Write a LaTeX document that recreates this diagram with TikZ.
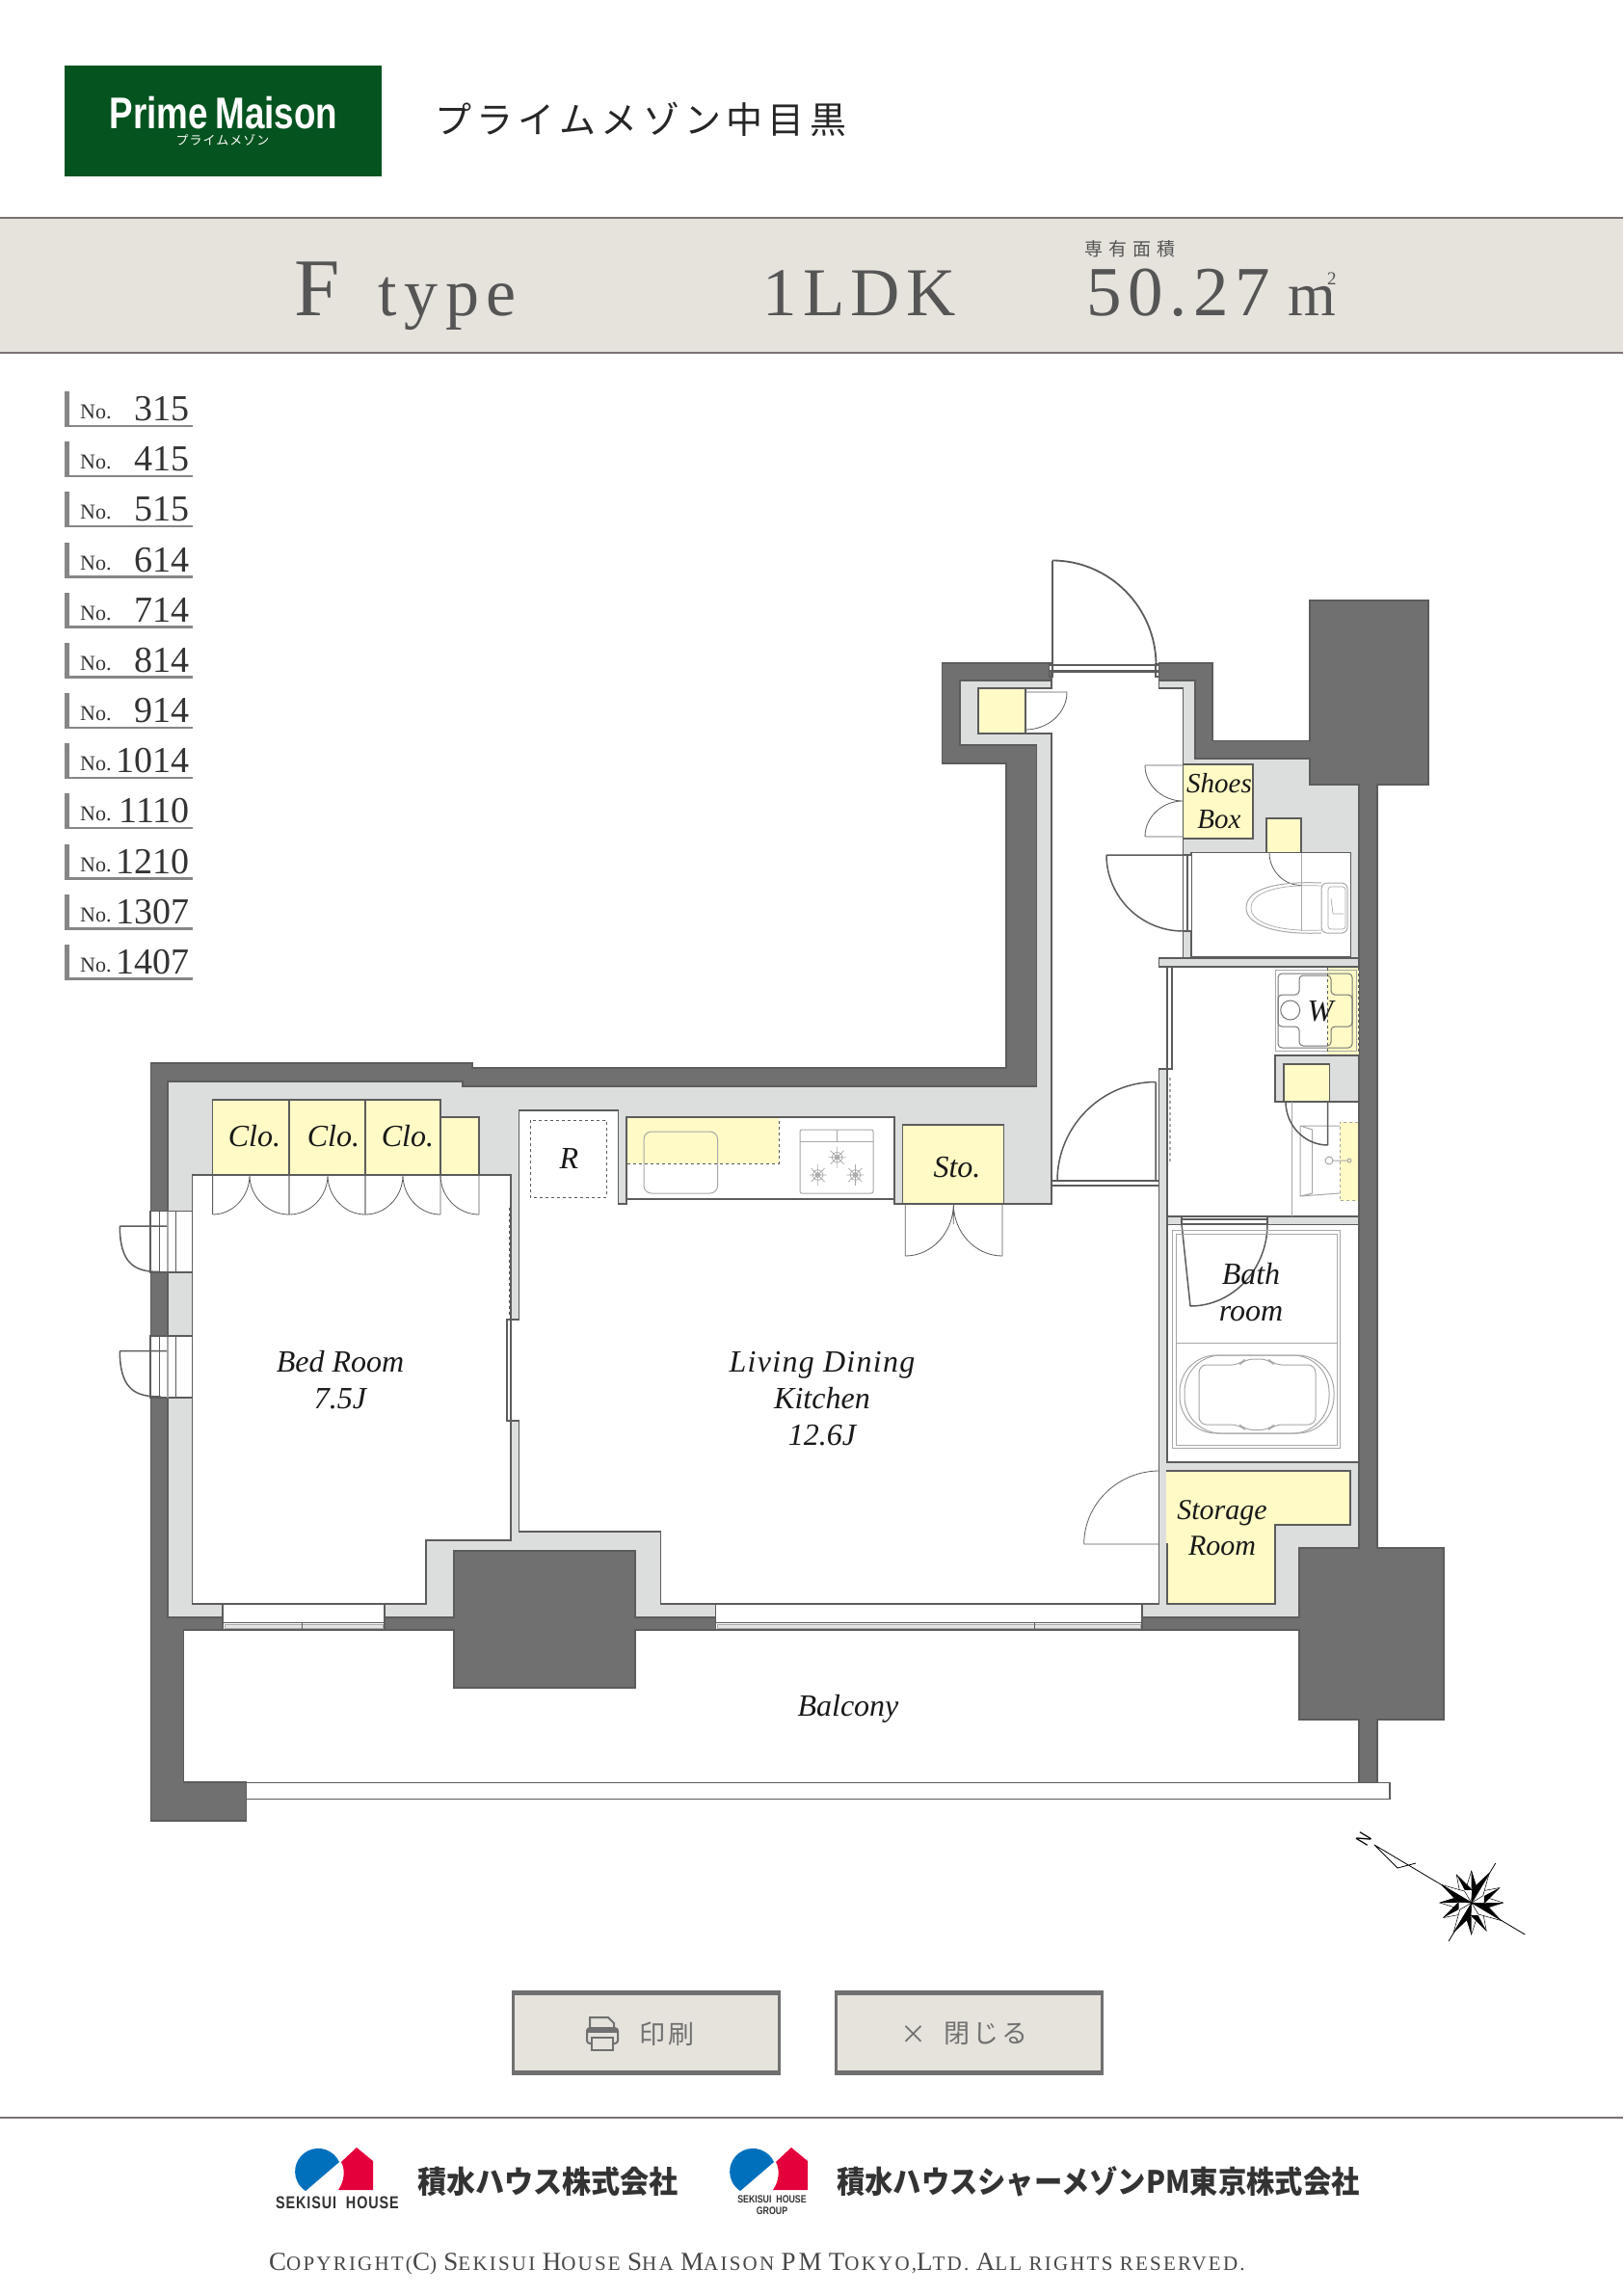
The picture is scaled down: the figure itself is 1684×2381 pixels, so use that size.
\documentclass[tikz,border=0pt]{standalone}
\usepackage{fontspec}
\setmainfont{Liberation Serif}
\newfontfamily\cjkfont{Noto Sans CJK JP}
\newfontfamily\logofont[FakeStretch=0.8]{Liberation Sans}
\newfontfamily\cjknarrow[FakeStretch=0.94]{Noto Sans CJK JP}
\newfontfamily\cjknarrower[FakeStretch=0.915]{Noto Sans CJK JP}

\definecolor{walldark}{HTML}{707070}
\definecolor{wallline}{HTML}{5C5C5C}
\definecolor{walllight}{HTML}{DCDEDD}
\definecolor{storeyellow}{HTML}{FFFAC6}
\definecolor{fixgray}{HTML}{A8A8A8}
\definecolor{pangray}{HTML}{767676}
\definecolor{bandfill}{HTML}{E6E2DC}
\definecolor{bandline}{HTML}{7B7070}
\definecolor{headtext}{HTML}{555555}
\definecolor{logogreen}{HTML}{05531F}
\definecolor{logoblue}{HTML}{0070BD}
\definecolor{logored}{HTML}{E4003A}
\definecolor{logotext}{HTML}{333333}

\newcommand{\fsize}[1]{\fontsize{#1}{#1}\selectfont}
\newcommand{\capbig}[1]{{\fsize{27}#1}}
% quarter arc, upright at the first point, level at the second
\newcommand{\qarc}[4]{(#1,#2) .. controls (#1,{#2+.55*(#4-#2)}) and ({#3-.55*(#3-#1)},#4) .. (#3,#4)}

\tikzset{
  wall/.style={fill=walldark, draw=wallline, line width=1.2pt},
  core/.style={fill=walllight, draw=wallline, line width=1.2pt},
  room/.style={fill=white, draw=wallline, line width=1.6pt},
  store/.style={fill=storeyellow, draw=wallline, line width=1.5pt},
  leaf/.style={draw=wallline, line width=1.5pt},
  thinleaf/.style={draw=wallline, line width=.8pt},
  fixture/.style={draw=fixgray, line width=1pt},
  panline/.style={draw=pangray, line width=1pt},
  sash/.style={fill=white, draw=wallline, line width=1.2pt},
  roomlabel/.style={font=\fsize{32}\itshape, align=center, text=black!90, inner sep=0pt},
  head/.style={text=headtext, inner sep=0pt, anchor=base west},
  btn/.style={fill=bandfill, draw=walldark, line width=3pt, inner sep=0pt},
  btnlabel/.style={text=walldark, inner sep=0pt, font=\cjkfont\fsize{27}\addfontfeature{LetterSpace=12}},
  logoname/.style={text=logotext, inner sep=0pt, font=\bfseries\fsize{32}},
}

\begin{document}
\begin{tikzpicture}[x=1pt, y=-1pt]

\path[use as bounding box, fill=white] (0,0) rectangle (1684,2381);

% Kopf
\fill[logogreen] (66.6,68) rectangle (396,183);
\node[text=white, inner sep=0pt, font=\logofont\bfseries\fsize{46}] (brand) at (232,117) {Prime\,Maison};
\node[text=white, inner sep=0pt, font=\cjkfont\fsize{13}\addfontfeature{LetterSpace=8}] (brandkana) at (231,145) {プライムメゾン};
\node[inner sep=0pt, anchor=west, text=black!85, font=\cjkfont\fsize{38}\addfontfeature{LetterSpace=14}] (title) at (451,124) {プライムメゾン中目黒};

% Band
\fill[bandfill] (0,226) rectangle (1684,366);
\draw[bandline, line width=2pt] (0,226) -- (1684,226) (0,366) -- (1684,366);
\node[head, font=\fsize{85}] (letter) at (305,327.5) {F};
\node[head, font=\fsize{70}\addfontfeature{LetterSpace=11}] (typename) at (392,327.5) {type};
\node[head, font=\fsize{71}\addfontfeature{LetterSpace=9}] (layout) at (791,327.5) {1LDK};
\node[head, font=\cjkfont\fsize{19}\addfontfeature{LetterSpace=32}] (arealabel) at (1125,266) {専有面積};
\node[head, font=\fsize{73}\addfontfeature{LetterSpace=9}] (area) at (1127,327.5) {50.27};
\node[head, font=\fsize{64}] (unit) at (1336,327.5) {m\hspace{-9pt}\raisebox{32pt}{\fsize{19}2}};

% Zimmernummern
\foreach \num [count=\i from 0] in {315,415,515,614,714,814,914,1014,1110,1210,1307,1407} {
  \fill[fixgray!80!black] (66.6,{406+52.18*\i}) rectangle (72,{443+52.18*\i});
  \fill[fixgray!80!black] (66.6,{440.5+52.18*\i}) rectangle (199.5,{443+52.18*\i});
  \node[head, text=black!80, font=\fsize{22}] (no\i) at (83,{434.5+52.18*\i}) {No.};
  \node[head, anchor=base east, text=black!80, font=\fsize{38}] (num\i) at (197,{436.5+52.18*\i}) {\num};
}

% Waende
\draw[wall] (156.5,1103) -- (490,1103) -- (490,1108) -- (1044,1108) -- (1044,792) -- (977.5,792) -- (977.5,688) -- (1258,688)
  -- (1258,768.5) -- (1359,768.5) -- (1359,623) -- (1482,623) -- (1482,814) -- (1429,814) -- (1429,1606) -- (1498,1606)
  -- (1498,1784) -- (1429,1784) -- (1429,1850) -- (1410,1850) -- (1410,1784) -- (1348,1784) -- (1348,1691) -- (659,1691)
  -- (659,1751) -- (471,1751) -- (471,1691) -- (190.4,1691) -- (190.4,1849) -- (255.6,1849) -- (255.6,1889) -- (156.5,1889) -- cycle;
\draw[core] (174,1122) -- (480,1122) -- (480,1127) -- (1075.5,1127) -- (1075.5,773) -- (996,773) -- (996,706) -- (1240,706)
  -- (1240,787) -- (1359,787) -- (1359,814) -- (1410,814) -- (1410,1606) -- (1348,1606) -- (1348,1678) -- (659,1678)
  -- (659,1609) -- (471,1609) -- (471,1678) -- (174,1678) -- cycle;

% Zimmer
\draw[room] (199.5,1219) -- (530,1219) -- (530,1598) -- (442,1598) -- (442,1664) -- (199.5,1664) -- cycle;
\draw[room] (538.5,1152) -- (641.5,1152) -- (641.5,1249) -- (650,1249) -- (650,1244) -- (928,1244) -- (928,1249) -- (1091,1249)
  -- (1091,761) -- (1064,761) -- (1064,714) -- (1091,714) -- (1091,697) -- (1202.6,697) -- (1202.6,714) -- (1227.5,714)
  -- (1227.5,994) -- (1202.6,994) -- (1202.6,1003) -- (1211,1003) -- (1211,1109) -- (1202.6,1109) -- (1202.6,1664)
  -- (685.5,1664) -- (685.5,1589) -- (538.5,1589) -- cycle;
\draw[room] (650,1159) rectangle (928,1244);
\draw[room] (1236,884.5) rectangle (1401.6,993);
\draw[room] (1216,1003) -- (1410,1003) -- (1410,1262) -- (1211,1262) -- (1211,1109) -- (1216,1109) -- cycle;
\draw[room] (1211,1270.5) rectangle (1410,1517);

% Schiebetuer zum Bed Room
\fill[white] (525,1370) rectangle (540,1473);
\draw[sash] (526,1369) rectangle (530,1474);
\draw[leaf] (530,1369) -- (538.5,1369) (530,1474) -- (538.5,1474);
\draw[thinleaf, dashed] (528,1253) -- (528,1367);

% Fenster
\foreach \xa/\xb/\xm in {231/399/313, 742.7/1185/856, 742.7/1185/1073} {
  \draw[sash] (\xa,1664) rectangle (\xb,1691);
  \draw[thinleaf] (\xa,1683.5) -- (\xb,1683.5);
  \draw[fixture, fill=black!10, line width=.7pt] ({\xa+2},1685.5) rectangle ({\xb-2},1689);
  \draw[thinleaf] (\xm,1683.5) -- (\xm,1691);
}
\foreach \ya in {1256.5,1386} {
  \draw[sash] (156,\ya) rectangle (199.5,{\ya+64});
  \draw[thinleaf] (165,\ya) -- (165,{\ya+64}) (182.7,\ya) -- (182.7,{\ya+64});
  \draw[fixture, line width=1.5pt] (174,\ya) -- (174,{\ya+64});
  \draw[leaf] (173,{\ya+15.5}) -- (124.3,{\ya+15.5}) \qarc{124.3}{\ya+15.5}{167}{\ya+63};
}
\draw[leaf] (156,1320) -- (199.5,1320) (156,1386) -- (199.5,1386);

% Eingang
\fill[white] (1092,687) rectangle (1202,697);
\draw[sash] (1088.5,690) rectangle (1202.6,696);
\draw[leaf] (1088.5,689) rectangle (1092,702) (1199,689) rectangle (1202.6,702);
\draw[leaf, line width=1.8pt] (1092,690) -- (1092,581.5) \qarc{1199.5}{690}{1092}{581.5};

% Lager
\draw[store] (1015,714) rectangle (1064,761);
\draw[thinleaf] (1064,718) -- (1107,718) \qarc{1107}{718}{1064}{757};
\draw[store] (1227.5,793) rectangle (1300,870);
\draw[thinleaf] (1227.5,794) -- (1188,794) \qarc{1188}{794}{1227.5}{831} \qarc{1188}{868}{1227.5}{831} (1188,868) -- (1227.5,868);
\draw[store] (1314,849) rectangle (1350,884.5);
\foreach \xa/\xb in {220.6/300, 300/379, 379/457} {
  \draw[store] (\xa,1141) rectangle (\xb,1219);
}
\draw[store] (457,1159) rectangle (497,1219);
\draw[store] (936.7,1167) rectangle (1041.7,1249);
\draw[store] (1203,1526) -- (1401,1526) -- (1401,1582) -- (1323,1582) -- (1323,1664) -- (1211,1664) -- (1211,1602) -- (1203,1602) -- cycle;

% Tueren
\foreach \xa/\xm/\xb in {220.6/259/300, 300/340/379, 379/418/457} {
  \draw[thinleaf] (\xa,1219) -- (\xa,1260) (\xb,1219) -- (\xb,1260) \qarc{\xm}{1219}{\xa}{1260} \qarc{\xm}{1219}{\xb}{1260};
}
\draw[thinleaf] (497,1219) -- (497,1260) \qarc{457}{1219}{497}{1260};
\draw[thinleaf] (939.3,1249) -- (939.3,1303) (989.3,1249) -- (989.3,1270) (1040,1249) -- (1040,1303)
  \qarc{989.3}{1249}{939.3}{1303} \qarc{989.3}{1249}{1040}{1303};
\fill[white] (1227,887) rectangle (1236,966);
\draw[leaf] (1227.5,884.5) -- (1227.5,966) (1232,887) -- (1232,966) (1227.5,966) -- (1236,966) (1227.5,887) -- (1236,887);
\draw[leaf] (1227.5,887) -- (1148,887) \qarc{1148}{887}{1227.5}{966};
\draw[thinleaf] \qarc{1317}{884.5}{1350}{918.5};
\draw[fixture] (1350,884.5) -- (1350,966);
\draw[sash] (1211,1003) rectangle (1215.7,1109);
\fill[walllight] (1203.4,1110) rectangle (1210.2,1661);
\draw[leaf] (1211,1109) -- (1211,1262);
\draw[fixture, dashed, line width=1.4pt] (1214,1118) -- (1214,1207);
\draw[leaf] (1091,1225) -- (1202.6,1225) (1091,1230) -- (1202.6,1230);
\draw[leaf] (1199,1225) -- (1199,1122.5) \qarc{1097}{1225}{1199}{1122.5};
\draw[core] (1202.6,994) rectangle (1410,1003);
\draw[core] (1211,1262) rectangle (1410,1270.5);
\fill[white] (1226,1263) rectangle (1315,1270);
\draw[leaf, line width=1.2pt] (1226,1265) -- (1315,1265) (1226,1269.3) -- (1315,1269.3) (1226,1262) -- (1226,1270.5) (1315,1262) -- (1315,1270.5);
\draw[leaf] (1226,1270) -- (1235,1355) \qarc{1315}{1270}{1235}{1355};
\draw[thinleaf] \qarc{1124.7}{1602}{1203}{1526} (1124.7,1602) -- (1203,1602);

% Kueche
\draw[draw=wallline, dashed, line width=.8pt] (550,1162) rectangle (629,1242);
\fill[storeyellow] (651,1160) rectangle (808,1207);
\draw[thinleaf, dashed] (651,1207) -- (808,1207) -- (808,1160);
\draw[fixture, rounded corners=8pt] (668,1174) rectangle (744.6,1238);
\draw[fixture, rounded corners=2pt] (830,1172) rectangle (906,1238);
\draw[fixture] (830,1184) -- (906,1184) (868.6,1172) -- (868.6,1184);
\foreach \bx/\by in {868.6/1200.7, 848.6/1219, 887.4/1219} {
  \draw[fixture, line width=.7pt] (\bx,\by) circle (5.5) (\bx,\by) circle (2.5)
    ({\bx-9},\by) -- ({\bx+9},\by) (\bx,{\by-11}) -- (\bx,{\by+11}) ({\bx-7},{\by-7}) -- ({\bx+7},{\by+7}) ({\bx-7},{\by+7}) -- ({\bx+7},{\by-7});
}

% WC
\draw[fixture] (1371,916) .. controls (1325,914) and (1293,922) .. (1293,942) .. controls (1293,960) and (1325,970) .. (1371,968);
\draw[fixture, line width=.7pt] (1371,919) .. controls (1328,917) and (1298,925) .. (1298,942) .. controls (1298,958) and (1328,967) .. (1371,965);
\draw[fixture, rounded corners=6pt] (1371,916) rectangle (1398,968);
\draw[fixture, rounded corners=3pt, line width=.7pt] (1378,920) rectangle (1396,964);
\draw[fixture, line width=.7pt] (1381,932) -- (1383,948) (1383,948) -- (1394,948);

% Waschraum
\fill[storeyellow] (1377,1004) rectangle (1410,1094);
\draw[fixture] (1323,1006.5) rectangle (1407,1090);
\draw[panline, rounded corners=4pt] (1326,1010) rectangle (1403,1087);
\draw[panline, rounded corners=4pt] (1326,1032) -- (1348,1032) -- (1348,1012) -- (1381,1012) -- (1381,1032) -- (1403,1032)
  -- (1403,1065) -- (1381,1065) -- (1381,1085) -- (1348,1085) -- (1348,1065) -- (1326,1065) -- cycle;
\draw[panline] (1338.7,1048) circle (10);
\draw[thinleaf, dashed] (1377,1004) -- (1377,1094) (1409,1004) -- (1409,1094);
\draw[core] (1323,1095) rectangle (1410,1143);
\draw[store] (1332,1104) rectangle (1379.3,1143);
\draw[fixture, line width=.8pt] (1340,1143) -- (1340,1262);
\fill[storeyellow] (1390,1164) rectangle (1409.3,1245.7);
\draw[fixture, dashed] (1409,1164) -- (1390,1164) -- (1390,1245.7) -- (1409,1245.7);
\draw[fixture] (1390,1168) -- (1349,1168) -- (1349,1241) -- (1390,1238) (1349,1168) -- (1361.7,1172) -- (1361.7,1238) -- (1349,1241);
\draw[fixture] (1379,1204) circle (4) (1383,1204) -- (1397,1204) (1400,1204) circle (2);
\draw[leaf] (1377.7,1143) -- (1377.7,1188) \qarc{1334}{1143}{1377.7}{1188};

% Bad
\draw[fixture] (1216.7,1276) rectangle (1390.7,1502) (1220,1280) rectangle (1387.3,1499);
\draw[fixture] (1220,1393) -- (1387.3,1393);
\draw[fixture, rounded corners=38pt] (1224,1406) rectangle (1384,1487);
\draw[fixture, rounded corners=38pt] (1229,1406) rectangle (1379,1487);
\draw[fixture, rounded corners=8pt] (1244,1416) -- (1286,1416) -- (1292,1410) -- (1316,1410) -- (1322,1416) -- (1365,1416) -- (1365,1478)
  -- (1322,1478) -- (1316,1483.5) -- (1292,1483.5) -- (1286,1478) -- (1244,1478) -- cycle;

% Balkon
\draw[sash, line width=1.6pt] (255.6,1849.5) -- (1442,1849.5) -- (1442,1866.5) -- (255.6,1866.5);

% Beschriftung
\node[roomlabel] (clob) at (264,1179) {Clo.};
\node[roomlabel] (cloc) at (346,1179) {Clo.};
\node[roomlabel] (clod) at (423,1179) {Clo.};
\node[roomlabel] (fridge) at (590.5,1202) {R};
\node[roomlabel] (sto) at (993,1211) {Sto.};
\node[roomlabel, font=\fsize{29}\itshape] (shoes) at (1265,831) {Shoes\\[8pt]Box};
\node[roomlabel] (washer) at (1370,1049) {W};
\node[roomlabel] (bedroom) at (353,1432) {Bed Room\\[6pt]7.5J};
\node[roomlabel] (ldk) at (853,1451) {{\addfontfeature{LetterSpace=4}Living Dining}\\[6pt]Kitchen\\[6pt]12.6J};
\node[roomlabel] (bath) at (1298,1341) {Bath\\[6pt]room};
\node[roomlabel, font=\fsize{30}\itshape] (storage) at (1268,1585) {Storage\\[7pt]Room};
\node[roomlabel] (balcony) at (880,1773) {Balcony};

% Kompass
\coordinate (compass) at (1526.7,1974);
\coordinate (needletip) at (1426,1914);
\coordinate (needleend) at (1582.3,2007);
\coordinate (crossa) at (1503,2014);
\coordinate (crossb) at (1551.7,1933);
\coordinate (barba) at (1450,1938);
\coordinate (barbb) at (1469,1933);
\begin{scope}[shift={(compass)}]
  \foreach \a in {0,90,180,270,62,152,242,332} {
    \draw[black, line width=.5pt, fill=white] (0,0) -- ({\a+32}:13) -- (\a:33) -- ({\a-32}:13) -- cycle;
    \fill[black] ({\a+32}:13) -- (\a:33) -- (\a:15) -- cycle;
  }
  \foreach \a in {31,121,211,301} {
    \draw[black, line width=.5pt, fill=white] (0,0) -- ({\a+28}:14) -- (\a:36) -- ({\a-28}:14) -- cycle;
    \fill[black] (0,0) -- (\a:36) -- ({\a-28}:14) -- cycle;
  }
\end{scope}
\draw[black, line width=.8pt] (needletip) -- (needleend) (crossa) -- (crossb) (needletip) -- (barba) -- (barbb);
\node[inner sep=0pt, rotate=59, font=\logofont\fsize{20}] (northmark) at (1415,1908) {N};

% Schaltflaechen
\node[btn, minimum width=276, minimum height=82] (printbtn) at (670.5,2109) {};
\node[btn, minimum width=276, minimum height=82] (closebtn) at (1005.5,2109) {};
\draw[walldark, line width=4.5pt] (531,2067.5) -- (810,2067.5) (531,2150.5) -- (810,2150.5) (866,2067.5) -- (1145,2067.5) (866,2150.5) -- (1145,2150.5);
\draw[walldark, line width=2pt, fill=bandfill] (612,2108) -- (612,2093) -- (631,2093) -- (637,2099) -- (637,2108);
\draw[walldark, line width=2pt, fill=bandfill, rounded corners=3pt] (609,2104) rectangle (641,2120);
\fill[walldark] (609,2104) rectangle (641,2109);
\draw[walldark, line width=2pt, fill=bandfill] (614,2114) rectangle (636,2127);
\node[btnlabel] (printtext) at (692,2110) {印刷};
\node[btnlabel] (closemark) at (948,2111) {×};
\node[btnlabel] (closetext) at (1023,2110) {閉じる};

% Fuss
\draw[bandline, line width=2pt] (0,2197) -- (1684,2197);
\fill[logoblue] (352,2243) arc[start angle=-24.4, end angle=-237, radius=24] -- cycle;
\fill[logored] (370,2228) -- (387,2242) -- (387,2272) -- (351,2272) .. controls (358,2262) and (358,2250) .. (354,2243) -- cycle;
\begin{scope}[xshift=451pt]
  \fill[logoblue] (352,2243) arc[start angle=-24.4, end angle=-237, radius=24] -- cycle;
  \fill[logored] (370,2228) -- (387,2242) -- (387,2272) -- (351,2272) .. controls (358,2262) and (358,2250) .. (354,2243) -- cycle;
\end{scope}
\node[inner sep=0pt, text=logotext, font=\logofont\bfseries\fsize{18}\addfontfeature{LetterSpace=5}] (sekisui) at (350,2285) {SEKISUI\ \ HOUSE};
\node[inner sep=0pt, text=logotext, font=\logofont\bfseries\fsize{11}, align=center] (group) at (801,2288) {SEKISUI\ \ HOUSE\\[1pt]GROUP};
\node[logoname, anchor=west, font=\cjknarrow\bfseries\fsize{32}] (companya) at (433,2263) {積水ハウス株式会社};
\node[logoname, anchor=west, font=\cjknarrower\bfseries\fsize{32}] (companyb) at (868,2263) {積水ハウスシャーメゾンPM東京株式会社};
\node[inner sep=0pt, anchor=base west, text=black!72, font=\fsize{21}\addfontfeature{LetterSpace=10.5}] (copyright) at (279,2355)
  {\capbig{C}OPYRIGHT(\capbig{C}) \capbig{S}EKISUI \capbig{H}OUSE \capbig{S}HA \capbig{M}AISON \capbig{PM} \capbig{T}OKYO,\capbig{L}TD. \capbig{A}LL RIGHTS RESERVED.};

\end{tikzpicture}
\end{document}
